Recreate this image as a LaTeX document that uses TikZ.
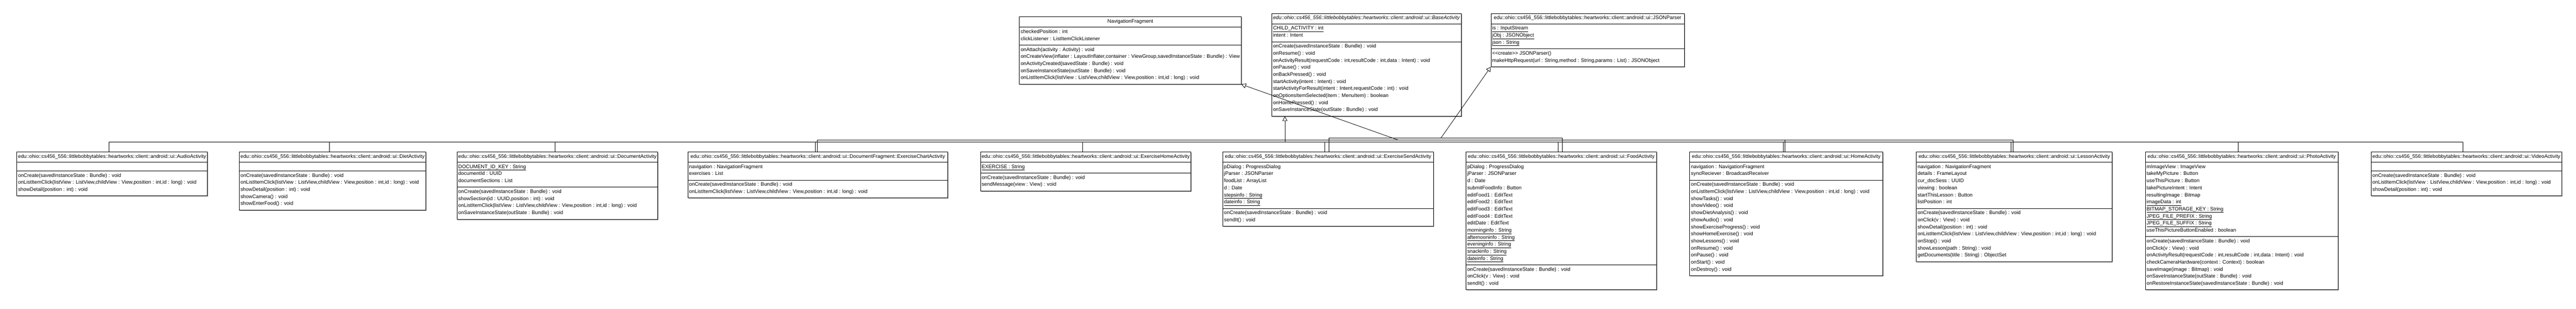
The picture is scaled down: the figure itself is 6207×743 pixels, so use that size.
\documentclass[tikz,border=0pt]{standalone}
\usepackage{fontspec}
\setmainfont{Liberation Sans}
\usetikzlibrary{shapes.multipart,arrows.meta,shadows}

\newcommand{\headstrut}{\rule[-6pt]{0pt}{16pt}}
\newcommand{\rowstrut}{\rule[-7pt]{0pt}{17pt}}

\tikzset{
  umlclass/.style={rectangle split, rectangle split parts=3, draw=black, line width=1pt,
    fill=white, anchor=north west, align=left, inner xsep=3pt, inner ysep=4pt,
    rectangle split part align={center,left,left},
    font=\fontsize{12.2}{17}\selectfont,
    drop shadow={shadow xshift=2pt, shadow yshift=-2pt, fill=black!30, opacity=1}},
  inherit/.style={draw=black, line width=1pt, -{Triangle[open,length=11pt,width=12pt]}},
  link/.style={draw=black, line width=1pt}
}

\begin{document}
\begin{tikzpicture}[x=1pt,y=-1pt]
  \useasboundingbox (0,0) rectangle (6207,743);
  % superclasses
  \node[umlclass,minimum width=529pt] (nav) at (2456,40)
    {\headstrut NavigationFragment
     \nodepart{two}\rowstrut checkedPosition : int\\
     clickListener : ListItemClickListener\rowstrut
     \nodepart{three}\rowstrut onAttach(activity : Activity) : void\\
     onCreateView(inflater : LayoutInflater,container : ViewGroup,savedInstanceState : Bundle) : View\\
     onActivityCreated(savedState : Bundle) : void\\
     onSaveInstanceState(outState : Bundle) : void\\
     onListItemClick(listView : ListView,childView : View,position : int,id : long) : void\rowstrut};
  \node[umlclass,minimum width=452pt] (base) at (3064,32)
    {\headstrut\textit{edu::ohio::cs456\_556::littlebobbytables::heartworks::client::android::ui::BaseActivity}
     \nodepart{two}\rowstrut\underline{CHILD\_ACTIVITY : int}\\
     intent : Intent\rowstrut
     \nodepart{three}\rowstrut onCreate(savedInstanceState : Bundle) : void\\
     onResume() : void\\
     onActivityResult(requestCode : int,resultCode : int,data : Intent) : void\\
     onPause() : void\\
     onBackPressed() : void\\
     startActivity(intent : Intent) : void\\
     startActivityForResult(intent : Intent,requestCode : int) : void\\
     onOptionsItemSelected(item : MenuItem) : boolean\\
     onHomePressed() : void\\
     onSaveInstanceState(outState : Bundle) : void\rowstrut};
  \node[umlclass,minimum width=466pt] (json) at (3592,32)
    {\headstrut edu::ohio::cs456\_556::littlebobbytables::heartworks::client::android::ui::JSONParser
     \nodepart{two}\rowstrut\underline{is : InputStream}\\
     \underline{jObj : JSONObject}\\
     \underline{json : String}\rowstrut
     \nodepart{three}\rowstrut <{}<create>{}> JSONParser()\\
     makeHttpRequest(url : String,method : String,params : List) : JSONObject\rowstrut};
  % activities
  \node[umlclass,minimum width=456pt] (audio) at (40,365)
    {\headstrut edu::ohio::cs456\_556::littlebobbytables::heartworks::client::android::ui::AudioActivity
     \nodepart{two}\rule{0pt}{12pt}
     \nodepart{three}\rowstrut onCreate(savedInstanceState : Bundle) : void\\
     onListItemClick(listView : ListView,childView : View,position : int,id : long) : void\\
     showDetail(position : int) : void\rowstrut};
  \node[umlclass,minimum width=446pt] (diet) at (576,365)
    {\headstrut edu::ohio::cs456\_556::littlebobbytables::heartworks::client::android::ui::DietActivity
     \nodepart{two}\rule{0pt}{12pt}
     \nodepart{three}\rowstrut onCreate(savedInstanceState : Bundle) : void\\
     onListItemClick(listView : ListView,childView : View,position : int,id : long) : void\\
     showDetail(position : int) : void\\
     showCamera() : void\\
     showEnterFood() : void\rowstrut};
  \node[umlclass,minimum width=477pt] (doc) at (1101,365)
    {\headstrut edu::ohio::cs456\_556::littlebobbytables::heartworks::client::android::ui::DocumentActivity
     \nodepart{two}\rowstrut\underline{DOCUMENT\_ID\_KEY : String}\\
     documentId : UUID\\
     documentSections : List\rowstrut
     \nodepart{three}\rowstrut onCreate(savedInstanceState : Bundle) : void\\
     showSection(id : UUID,position : int) : void\\
     onListItemClick(listView : ListView,childView : View,position : int,id : long) : void\\
     onSaveInstanceState(outState : Bundle) : void\rowstrut};
  \node[umlclass,minimum width=626pt] (chart) at (1657,365)
    {\headstrut edu::ohio::cs456\_556::littlebobbytables::heartworks::client::android::ui::DocumentFragment::ExerciseChartActivity
     \nodepart{two}\rowstrut navigation : NavigationFragment\\
     exercises : List\rowstrut
     \nodepart{three}\rowstrut onCreate(savedInstanceState : Bundle) : void\\
     onListItemClick(listView : ListView,childView : View,position : int,id : long) : void\rowstrut};
  \node[umlclass,minimum width=503pt] (exhome) at (2362,365)
    {\headstrut edu::ohio::cs456\_556::littlebobbytables::heartworks::client::android::ui::ExerciseHomeActivity
     \nodepart{two}\rowstrut\underline{EXERCISE : String}
     \nodepart{three}\rowstrut onCreate(savedInstanceState : Bundle) : void\\
     sendMessage(view : View) : void\rowstrut};
  \node[umlclass,minimum width=507pt] (send) at (2946,365)
    {\headstrut edu::ohio::cs456\_556::littlebobbytables::heartworks::client::android::ui::ExerciseSendActivity
     \nodepart{two}\rowstrut pDialog : ProgressDialog\\
     jParser : JSONParser\\
     foodList : ArrayList\\
     d : Date\\
     \underline{stepsinfo : String}\\
     \underline{dateinfo : String}\rowstrut
     \nodepart{three}\rowstrut onCreate(savedInstanceState : Bundle) : void\\
     sendIt() : void\rowstrut};
  \node[umlclass,minimum width=459pt] (food) at (3532,365)
    {\headstrut edu::ohio::cs456\_556::littlebobbytables::heartworks::client::android::ui::FoodActivity
     \nodepart{two}\rowstrut pDialog : ProgressDialog\\
     jParser : JSONParser\\
     d : Date\\
     submitFoodInfo : Button\\
     editFood1 : EditText\\
     editFood2 : EditText\\
     editFood3 : EditText\\
     editFood4 : EditText\\
     editDate : EditText\\
     \underline{morninginfo : String}\\
     \underline{afternooninfo : String}\\
     \underline{eveninginfo : String}\\
     \underline{snackinfo : String}\\
     \underline{dateinfo : String}\rowstrut
     \nodepart{three}\rowstrut onCreate(savedInstanceState : Bundle) : void\\
     onClick(v : View) : void\\
     sendIt() : void\rowstrut};
  \node[umlclass,minimum width=465pt] (home) at (4071,365)
    {\headstrut edu::ohio::cs456\_556::littlebobbytables::heartworks::client::android::ui::HomeActivity
     \nodepart{two}\rowstrut navigation : NavigationFragment\\
     syncReciever : BroadcastReceiver\rowstrut
     \nodepart{three}\rowstrut onCreate(savedInstanceState : Bundle) : void\\
     onListItemClick(listView : ListView,childView : View,position : int,id : long) : void\\
     showTasks() : void\\
     showVideo() : void\\
     showDietAnalysis() : void\\
     showAudio() : void\\
     showExerciseProgress() : void\\
     showHomeExercise() : void\\
     showLessons() : void\\
     onResume() : void\\
     onPause() : void\\
     onStart() : void\\
     onDestroy() : void\rowstrut};
  \node[umlclass,minimum width=472pt] (lesson) at (4617,365)
    {\headstrut edu::ohio::cs456\_556::littlebobbytables::heartworks::client::android::ui::LessonActivity
     \nodepart{two}\rowstrut navigation : NavigationFragment\\
     details : FrameLayout\\
     cur\_docSess : UUID\\
     viewing : boolean\\
     startThisLesson : Button\\
     listPosition : int\rowstrut
     \nodepart{three}\rowstrut onCreate(savedInstanceState : Bundle) : void\\
     onClick(v : View) : void\\
     showDetail(position : int) : void\\
     onListItemClick(listView : ListView,childView : View,position : int,id : long) : void\\
     onStop() : void\\
     showLesson(path : String) : void\\
     getDocuments(title : String) : ObjectSet\rowstrut};
  \node[umlclass,minimum width=464pt] (photo) at (5169,365)
    {\headstrut edu::ohio::cs456\_556::littlebobbytables::heartworks::client::android::ui::PhotoActivity
     \nodepart{two}\rowstrut mImageView : ImageView\\
     takeMyPicture : Button\\
     useThisPicture : Button\\
     takePictureIntent : Intent\\
     resultingImage : Bitmap\\
     \underline{imageData : int}\\
     \underline{BITMAP\_STORAGE\_KEY : String}\\
     \underline{JPEG\_FILE\_PREFIX : String}\\
     \underline{JPEG\_FILE\_SUFFIX : String}\\
     useThisPictureButtonEnabled : boolean\rowstrut
     \nodepart{three}\rowstrut onCreate(savedInstanceState : Bundle) : void\\
     onClick(v : View) : void\\
     onActivityResult(requestCode : int,resultCode : int,data : Intent) : void\\
     checkCameraHardware(context : Context) : boolean\\
     saveImage(image : Bitmap) : void\\
     onSaveInstanceState(outState : Bundle) : void\\
     onRestoreInstanceState(savedInstanceState : Bundle) : void\rowstrut};
  \node[umlclass,minimum width=454pt] (video) at (5713,365)
    {\headstrut edu::ohio::cs456\_556::littlebobbytables::heartworks::client::android::ui::VideoActivity
     \nodepart{two}\rule{0pt}{12pt}
     \nodepart{three}\rowstrut onCreate(savedInstanceState : Bundle) : void\\
     onListItemClick(listView : ListView,childView : View,position : int,id : long) : void\\
     showDetail(position : int) : void\rowstrut};
  % generalization buses
  \coordinate (bj) at (3096,342);
  \coordinate (nj) at (3369,337);
  \coordinate (jj) at (3472,332);
  \draw[link] ([xshift=-8pt]audio.north) |- (bj);
  \draw[link] ([xshift=-8pt]diet.north) |- (bj);
  \draw[link] ([xshift=-6pt]doc.north) |- (bj);
  \draw[link] ([xshift=-6pt]chart.north) |- (bj);
  \draw[link] ([xshift=-1pt]chart.north) |- (nj);
  \draw[link] ([xshift=-7pt]exhome.north) |- (bj);
  \draw[link] ([xshift=-8pt]send.north) |- (bj);
  \draw[link] ([xshift=2pt]send.north) |- (jj);
  \draw[link] ([xshift=-7pt]food.north) |- (bj);
  \draw[link] ([xshift=2pt]food.north) |- (jj);
  \draw[link] ([xshift=-7pt]home.north) |- (bj);
  \draw[link] ([xshift=-3pt]home.north) |- (nj);
  \draw[link] ([xshift=-8pt]lesson.north) |- (bj);
  \draw[link] ([xshift=-3pt]lesson.north) |- (nj);
  \draw[link] ([xshift=-8pt]photo.north) |- (bj);
  \draw[link] ([xshift=-8pt]video.north) |- (bj);
  \draw[inherit] (bj) -- (bj |- base.south);
  \draw[inherit] (nj) -- (nav.south east);
  \draw[inherit] (jj) -- (json.south west);
\end{tikzpicture}
\end{document}
